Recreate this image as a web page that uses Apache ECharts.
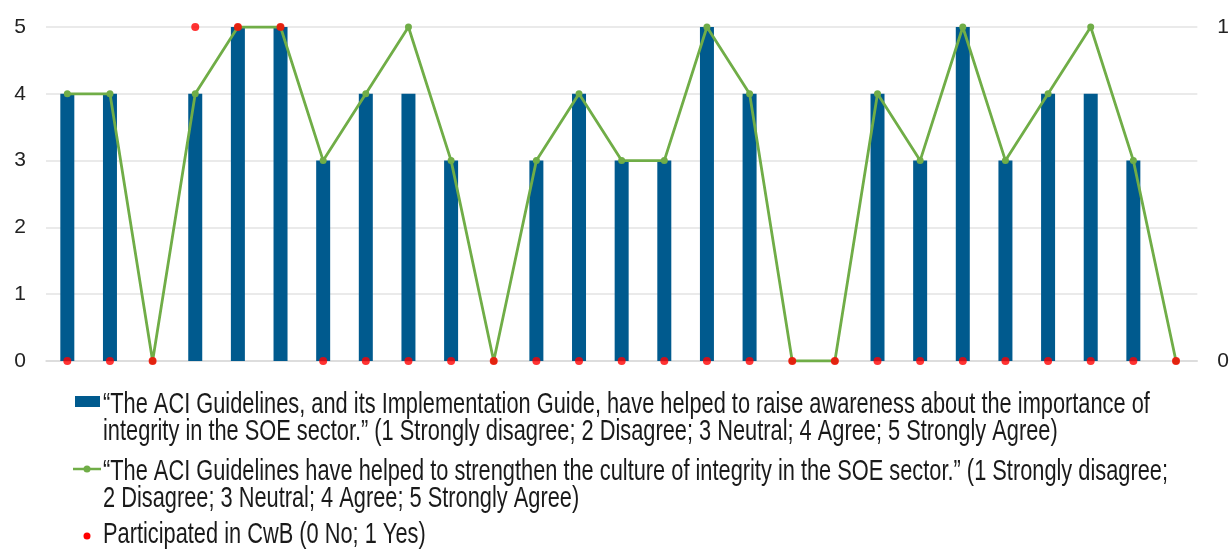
<!DOCTYPE html>
<html lang="en">
    <head>
        <meta charset="UTF-8">
        <title>ACI Guidelines survey</title>
        <script src="https://cdn.jsdelivr.net/npm/echarts@6/dist/echarts.min.js"></script>
        <style>
            html, body { margin: 0; padding: 0; background: #fff; }
            #chart { width: 1232px; height: 552px; }
        </style>
    </head>
    <body>
        <div id="chart"></div>
        <script>
            // respondents (no labels shown on the axis)
            var respondents = ['1','2','3','4','5','6','7','8','9','10','11','12','13','14',
                               '15','16','17','18','19','20','21','22','23','24','25','26','27'];
            // raise awareness score (bars)
            var awareness = [4,4,0,4,5,5,3,4,4,3,0,3,4,3,3,5,4,0,0,4,3,5,3,4,4,3,0];
            // strengthen culture score (line)
            var culture = [4,4,0,4,5,5,3,4,5,3,0,3,4,3,3,5,4,0,0,4,3,5,3,4,5,3,0];
            // participated in CwB (0 No; 1 Yes)
            var cwb = [0,0,0,1,1,1,0,0,0,0,0,0,0,0,0,0,0,0,0,0,0,0,0,0,0,0,0];

            var leftTicks = [0, 5, 1];   // min, max, interval
            var rightTicks = [0, 1, 1];

            var names = [
                '\u201cThe ACI Guidelines, and its Implementation Guide, have helped to raise awareness about the importance of\nintegrity in the SOE sector.\u201d (1 Strongly disagree; 2 Disagree; 3 Neutral; 4 Agree; 5 Strongly Agree)',
                '\u201cThe ACI Guidelines have helped to strengthen the culture of integrity in the SOE sector.\u201d (1 Strongly disagree;\n2 Disagree; 3 Neutral; 4 Agree; 5 Strongly Agree)',
                'Participated in CwB (0 No; 1 Yes)'
            ];
            var colors = ['#005a8e', '#70ad47', '#ff0000'];

            var font = '"Liberation Sans", Arial, sans-serif';
            var myChart = echarts.init(document.getElementById('chart'));

            // legend drawn by hand: the text in the original is stretched vertically
            function legendText(txt, y) {
                return {
                    type: 'text', x: 103, y: y, scaleY: 1.32,
                    style: {
                        text: txt, x: 0, y: 0, fill: '#1a1a1a',
                        font: '21.8px ' + font, lineHeight: 20,
                        verticalAlign: 'top', align: 'left'
                    }
                };
            }
            var legendGraphic = [
                { type: 'rect', shape: { x: 75, y: 396, width: 25, height: 11 }, style: { fill: colors[0] } },
                legendText(names[0], 392),
                { type: 'line', shape: { x1: 73, y1: 469, x2: 101, y2: 469 }, style: { stroke: colors[1], lineWidth: 2.5 } },
                { type: 'circle', shape: { cx: 87, cy: 469, r: 3.5 }, style: { fill: colors[1] } },
                legendText(names[1], 459),
                { type: 'circle', shape: { cx: 87, cy: 536, r: 3.5 }, style: { fill: colors[2] } },
                legendText(names[2], 522)
            ];

            var option = {
                animation: false,
                textStyle: { fontFamily: font },
                grid: { left: 46, right: 32, top: 27, bottom: 191 },
                graphic: legendGraphic,
                xAxis: {
                    type: 'category',
                    data: respondents,
                    axisLine: { lineStyle: { color: '#d9d9d9', width: 1.5 } },
                    axisTick: { show: false },
                    axisLabel: { show: false }
                },
                yAxis: [
                    {
                        type: 'value',
                        min: leftTicks[0], max: leftTicks[1], interval: leftTicks[2],
                        axisLabel: { fontSize: 21, color: '#222', margin: 20, fontFamily: font },
                        splitLine: { lineStyle: { color: '#e3e3e3', width: 1.5 } },
                        axisLine: { show: false }, axisTick: { show: false }
                    },
                    {
                        type: 'value',
                        min: rightTicks[0], max: rightTicks[1], interval: rightTicks[2],
                        axisLabel: { fontSize: 21, color: '#222', margin: 20, fontFamily: font },
                        splitLine: { show: false },
                        axisLine: { show: false }, axisTick: { show: false }
                    }
                ],
                series: [
                    {
                        name: names[0],
                        type: 'bar',
                        data: awareness,
                        barWidth: 14,
                        itemStyle: { color: colors[0] },
                        z: 2
                    },
                    {
                        name: names[1],
                        type: 'line',
                        data: culture,
                        symbol: 'circle',
                        symbolSize: 7,
                        lineStyle: { color: colors[1], width: 2.8 },
                        itemStyle: { color: colors[1] },
                        z: 3
                    },
                    {
                        name: names[2],
                        type: 'scatter',
                        yAxisIndex: 1,
                        data: cwb,
                        symbolSize: 8,
                        itemStyle: { color: colors[2] },
                        z: 4
                    }
                ]
            };
            myChart.setOption(option);
        </script>
    </body>
</html>
